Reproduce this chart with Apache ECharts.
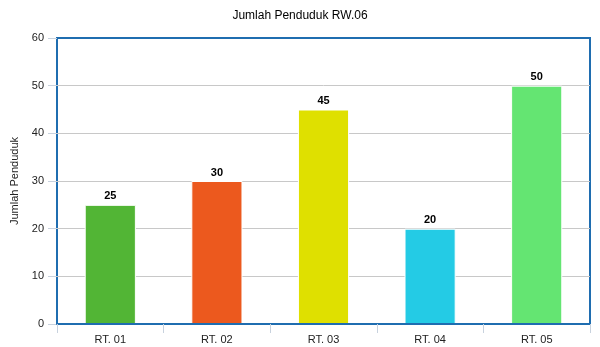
<!DOCTYPE html>
<html><head><meta charset="utf-8">
<script src="https://cdn.jsdelivr.net/npm/echarts@6/dist/echarts.min.js"></script>
<style>html,body{margin:0;padding:0;background:#fff}#c{width:600px;height:347px}</style>
</head><body><div id="c"></div>
<script>
const categories = ['RT. 01', 'RT. 02', 'RT. 03', 'RT. 04', 'RT. 05'];
const values = [25, 30, 45, 20, 50];
const barColors = ['#52b535', '#ec591e', '#dfe000', '#24cbe5', '#64e572'];
const yTicks = [0, 10, 20, 30, 40, 50, 60];

const chart = echarts.init(document.getElementById('c'), null, {renderer: 'canvas'});
const font = 'Liberation Sans, Arial, sans-serif';
chart.setOption({
  animation: false,
  title: {
    text: 'Jumlah Penduduk RW.06', left: 'center', top: 5,
    textStyle: {fontFamily: font, fontSize: 12, fontWeight: 'normal', color: '#000'}
  },
  grid: {
    left: 57, right: 10, top: 38, bottom: 23, show: true,
    borderColor: '#1f6db0', borderWidth: 2, backgroundColor: 'transparent'
  },
  xAxis: {
    type: 'category', data: categories, z: 5,
    axisLine: {show: true, lineStyle: {color: '#1f6db0', width: 2}},
    axisTick: {show: true, length: 9, lineStyle: {color: '#c8d2de'}},
    axisLabel: {fontFamily: font, fontSize: 11, color: '#222', margin: 10}
  },
  yAxis: {
    type: 'value', min: yTicks[0], max: yTicks[yTicks.length - 1], interval: 10,
    name: 'Jumlah Penduduk', nameLocation: 'middle', nameGap: 35,
    nameTextStyle: {fontFamily: font, fontSize: 11, color: '#222'},
    axisLine: {show: false},
    axisTick: {show: true, length: 9, lineStyle: {color: '#c8d2de'}},
    axisLabel: {fontFamily: font, fontSize: 11, color: '#222', margin: 13},
    splitLine: {showMinLine: false, showMaxLine: false, lineStyle: {color: '#c8c8c8'}}
  },
  series: [{
    type: 'bar', barWidth: '48%',
    data: values.map((v, i) => ({value: v, itemStyle: {color: barColors[i]}})),
    itemStyle: {borderColor: '#fff', borderWidth: 1},
    label: {show: true, position: 'top', distance: 3, fontFamily: font, fontSize: 11, fontWeight: 'bold', color: '#000'}
  }]
});
</script></body></html>
